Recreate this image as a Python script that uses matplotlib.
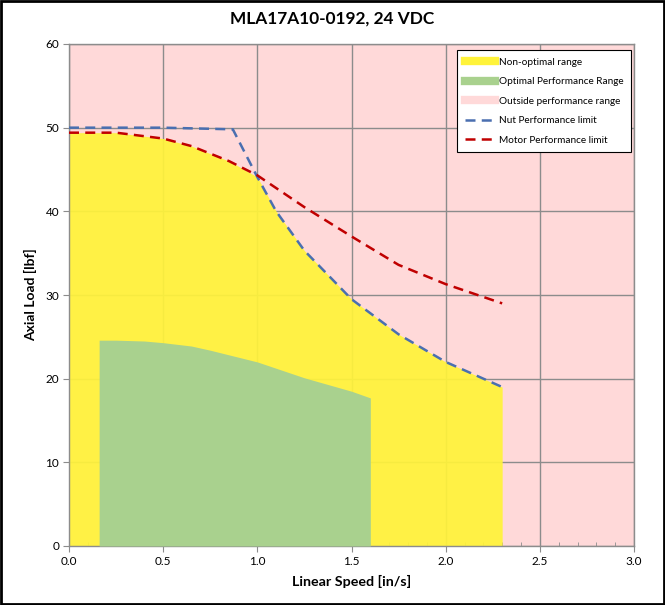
import matplotlib
matplotlib.use("Agg")
import matplotlib.pyplot as plt
import numpy as np
from matplotlib.patches import Rectangle
from matplotlib.lines import Line2D
from matplotlib.ticker import MultipleLocator

plt.rcParams['font.family'] = ['Lato', 'DejaVu Sans']

# Data
nut_x = [0.0, 0.5, 0.87, 1.0, 1.1, 1.25, 1.5, 1.75, 2.0, 2.3]
nut_y = [50.0, 50.0, 49.8, 44.1, 40.0, 35.3, 29.5, 25.3, 22.0, 19.0]

motor_x = [0.0, 0.25, 0.5, 0.65, 0.85, 1.0, 1.25, 1.5, 1.75, 2.0, 2.3]
motor_y = [49.4, 49.4, 48.7, 47.8, 46.0, 44.3, 40.5, 37.0, 33.6, 31.3, 29.0]

opt_x = [0.16, 0.25, 0.4, 0.5, 0.65, 0.75, 1.0, 1.25, 1.5, 1.6]
opt_y = [24.6, 24.6, 24.5, 24.3, 23.9, 23.4, 22.0, 20.1, 18.5, 17.7]

title = "MLA17A10-0192, 24 VDC"
xlabel = "Linear Speed [in/s]"
ylabel = "Axial Load [lbf]"
legend_labels = ["Non-optimal range", "Optimal Performance Range",
                 "Outside performance range", "Nut Performance limit",
                 "Motor Performance limit"]

fig = plt.figure(figsize=(6.65, 6.05), dpi=100)
ax = fig.add_axes([69/665, 1-546/605, (634-69)/665, (546-44)/605])

pink = '#FFD9D9'
yellow = '#FFF33A'
green = '#A9D18E'
blue = '#4A6FB0'
red = '#C00000'
gridc = '#8C8C8C'

ax.set_facecolor(pink)
ax.set_xlim(0, 3)
ax.set_ylim(0, 60)

# yellow = min of nut & motor on common grid
xs = np.union1d(nut_x, motor_x)
ny = np.interp(xs, nut_x, nut_y)
my = np.interp(xs, motor_x, motor_y)
ax.fill_between(xs, 0, np.minimum(ny, my), color=yellow, alpha=0.93, lw=0, zorder=2)
ax.fill_between(opt_x, 0, opt_y, color=green, lw=0, zorder=3)

ax.plot(nut_x, nut_y, color=blue, lw=1.8, dashes=(4, 2.5), zorder=5)
ax.plot(motor_x, motor_y, color=red, lw=1.8, dashes=(4, 2.5), zorder=5)

ax.xaxis.set_minor_locator(MultipleLocator(0.1))
ax.yaxis.set_major_locator(MultipleLocator(10))
ax.set_xticks(np.arange(0, 3.01, 0.5))
ax.set_xticklabels([f"{v:.1f}" for v in np.arange(0, 3.01, 0.5)])
ax.grid(True, which='major', color=gridc, lw=1.0, zorder=1)
ax.set_axisbelow(True)
for s in ax.spines.values():
    s.set_color(gridc)
    s.set_linewidth(1.0)
ax.tick_params(axis='both', which='major', direction='out', length=4, color=gridc, labelsize=8.5, pad=3)
ax.tick_params(axis='x', which='minor', direction='in', length=3, color=gridc)

ax.set_xlabel(xlabel, fontsize=10.3, fontweight='bold', labelpad=6)
ax.set_ylabel(ylabel, fontsize=10, fontweight='bold', labelpad=6)
fig.text(0.5, 1-19/605, title, ha='center', va='center', fontsize=12.4, fontweight='bold')

handles = [Line2D([0], [0], color=yellow, lw=6),
           Line2D([0], [0], color=green, lw=6),
           Line2D([0], [0], color=pink, lw=6),
           Line2D([0], [0], color=blue, lw=1.8, dashes=(4, 2.5)),
           Line2D([0], [0], color=red, lw=1.8, dashes=(4, 2.5))]
leg = ax.legend(handles, legend_labels, loc='upper right', bbox_to_anchor=(0.9947, 0.988),
                borderaxespad=0,
                fontsize=7.2, frameon=True, fancybox=False, edgecolor='black',
                framealpha=1, facecolor='white', handlelength=3.0, labelspacing=1.05,
                borderpad=0.75, handletextpad=0.4)
leg.get_frame().set_linewidth(0.8)
leg.set_zorder(10)

fig.patches.append(Rectangle((0.002, 0.002), 0.996, 0.996, transform=fig.transFigure,
                             fill=False, edgecolor='black', lw=2))

fig.savefig("out.png", dpi=100)
